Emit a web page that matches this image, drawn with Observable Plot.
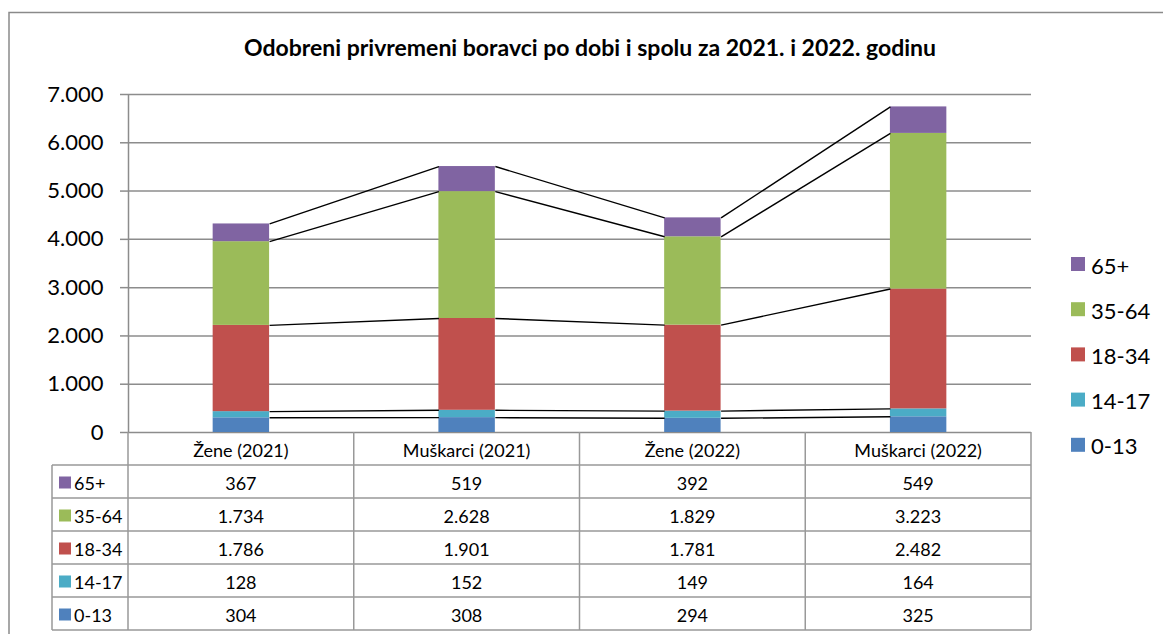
<!DOCTYPE html>
<html><head><meta charset="utf-8">
<script src="https://cdn.jsdelivr.net/npm/d3@7"></script>
<script src="https://cdn.jsdelivr.net/npm/@observablehq/plot@0.6"></script>
<style>
body{margin:0;background:#fff}
#chart{position:relative;width:1163px;height:634px;overflow:hidden;background:#fff}
</style>
</head><body><div id="chart"></div>
<script>
// ---- data ----
const title = "Odobreni privremeni boravci po dobi i spolu za 2021. i 2022. godinu";
const categories = ["Žene (2021)", "Muškarci (2021)", "Žene (2022)", "Muškarci (2022)"];
const ageGroups = ["0-13", "14-17", "18-34", "35-64", "65+"];
const v0_13  = [304, 308, 294, 325];
const v14_17 = [128, 152, 149, 164];
const v18_34 = [1786, 1901, 1781, 2482];
const v35_64 = [1734, 2628, 1829, 3223];
const v65    = [367, 519, 392, 549];
const yTicks = [0, 1000, 2000, 3000, 4000, 5000, 6000, 7000];
const colors = ["#4F81BD", "#4BACC6", "#C0504D", "#9BBB59", "#8064A2"];

const seriesValues = [v0_13, v14_17, v18_34, v35_64, v65];
const fmt = d3.formatLocale({decimal: ",", thousands: ".", grouping: [3], currency: ["", ""]}).format(",d");
const FONT = "Lato, 'Open Sans', sans-serif";
const GRAY = "#8c8c8c";
const half = 0.125; // half bar width in band units

// stacked segments
const rows = [];
const tops = ageGroups.map(() => []);
categories.forEach((cat, i) => {
  let base = 0;
  ageGroups.forEach((g, s) => {
    const v = seriesValues[s][i];
    rows.push({i, cat, group: g, value: v, y1: base, y2: base + v});
    base += v;
    tops[s][i] = base;
  });
});
// series lines between neighbouring bars
const links = [];
ageGroups.forEach((g, s) => {
  for (let i = 0; i < categories.length - 1; i++) {
    links.push({x1: i + half, x2: i + 1 - half, y1: tops[s][i], y2: tops[s][i + 1]});
  }
});

const plot = Plot.plot({
  width: 1163, height: 634,
  marginLeft: 128, marginRight: 132, marginTop: 94, marginBottom: 202,
  style: {fontFamily: FONT, background: "white", overflow: "visible", color: "black"},
  x: {domain: [-0.5, categories.length - 0.5], axis: null},
  y: {domain: [0, 7000], axis: null},
  color: {domain: ageGroups, range: colors},
  marks: [
    Plot.gridY(yTicks, {stroke: GRAY, strokeOpacity: 1, strokeWidth: 1.5}),
    Plot.axisY(yTicks, {tickSize: 8, tickPadding: 17, tickFormat: fmt, fontSize: 22,
      stroke: GRAY, strokeWidth: 1.5, fill: "black", strokeOpacity: 1}),
    Plot.rect(rows, {x1: d => d.i - half, x2: d => d.i + half, y1: "y1", y2: "y2", fill: "group"}),
    Plot.link(links, {x1: "x1", x2: "x2", y1: "y1", y2: "y2", stroke: "black", strokeWidth: 1.4}),
    Plot.ruleX([-0.5], {stroke: GRAY, strokeWidth: 1.5})
  ]
});

const xs = plot.scale("x"), ys = plot.scale("y");
const svg = d3.select(plot);

// outer border
svg.append("rect").attr("x", 9).attr("y", 12.5).attr("width", 1200).attr("height", 700)
  .attr("fill", "none").attr("stroke", "#8a8a8a").attr("stroke-width", 1.5);

// title
svg.append("text").attr("x", 590).attr("y", 47).attr("text-anchor", "middle")
  .attr("dominant-baseline", "central")
  .attr("font-family", FONT).attr("font-weight", "bold").attr("font-size", 23).attr("fill", "black")
  .text(title);

// data table
const tTop = ys.apply(0);
const rowH = 33;
const tLeft = 52;
const colEdges = d3.range(categories.length + 1).map(k => xs.apply(k - 0.5));
const tRight = colEdges[colEdges.length - 1];
const tBottom = tTop + rowH * (ageGroups.length + 1);
const tg = svg.append("g").attr("font-family", FONT).attr("fill", "black");
const lineStyle = sel => sel.attr("stroke", "#999").attr("stroke-width", 1.5);
// horizontal lines
for (let r = 1; r <= ageGroups.length + 1; r++) {
  tg.append("line").attr("x1", tLeft).attr("x2", tRight).attr("y1", tTop + r * rowH).attr("y2", tTop + r * rowH).call(lineStyle);
}
// vertical lines
colEdges.forEach(x => {
  tg.append("line").attr("x1", x).attr("x2", x).attr("y1", tTop).attr("y2", tBottom).call(lineStyle);
});
tg.append("line").attr("x1", tLeft).attr("x2", tLeft).attr("y1", tTop + rowH).attr("y2", tBottom).call(lineStyle);
// header
categories.forEach((c, i) => {
  tg.append("text").attr("x", xs.apply(i)).attr("y", tTop + rowH / 2 + 1).attr("text-anchor", "middle")
    .attr("dominant-baseline", "central").attr("font-size", 18).text(c);
});
// body rows (top row = last age group)
const order = ageGroups.map((g, s) => s).reverse();
order.forEach((s, r) => {
  const cy = tTop + rowH * (r + 1) + rowH / 2 + 1;
  tg.append("rect").attr("x", 59).attr("y", cy - 6).attr("width", 12).attr("height", 12).attr("fill", colors[s]);
  tg.append("text").attr("x", 74).attr("y", cy).attr("text-anchor", "start")
    .attr("dominant-baseline", "central").attr("font-size", 18).text(ageGroups[s]);
  categories.forEach((c, i) => {
    tg.append("text").attr("x", xs.apply(i)).attr("y", cy).attr("text-anchor", "middle")
      .attr("dominant-baseline", "central").attr("font-size", 18).text(fmt(seriesValues[s][i]));
  });
});

// legend
const lg = svg.append("g").attr("font-family", FONT).attr("fill", "black");
order.forEach((s, k) => {
  const cy = 264 + k * 45.2;
  lg.append("rect").attr("x", 1071).attr("y", cy - 7).attr("width", 14).attr("height", 14).attr("fill", colors[s]);
  lg.append("text").attr("x", 1091).attr("y", cy + 1).attr("text-anchor", "start")
    .attr("dominant-baseline", "central").attr("font-size", 22).text(ageGroups[s]);
});

document.getElementById("chart").appendChild(plot);
</script>
</body></html>
